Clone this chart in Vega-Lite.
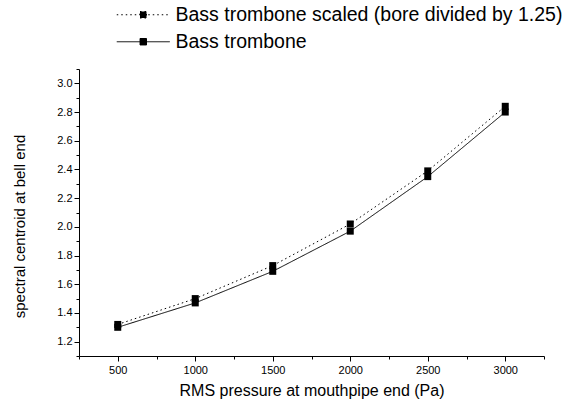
{
  "$schema": "https://vega.github.io/schema/vega-lite/v6.json",
  "width": 465,
  "height": 287,
  "autosize": "none",
  "padding": {"left": 79, "top": 69, "right": 32, "bottom": 49},
  "background": "white",
  "config": {
    "view": {"stroke": null},
    "font": "Liberation Sans",
    "axis": {
      "grid": false,
      "domainColor": "black",
      "tickColor": "black",
      "labelColor": "black",
      "titleColor": "black",
      "labelFont": "Liberation Sans",
      "titleFont": "Liberation Sans",
      "titleFontWeight": "normal",
      "labelFontSize": 11,
      "titleFontSize": 16
    }
  },
  "data": {
    "values": [
      {"p": 500, "c": 1.32, "s": "Bass trombone scaled (bore divided by 1.25)"},
      {"p": 1000, "c": 1.50, "s": "Bass trombone scaled (bore divided by 1.25)"},
      {"p": 1500, "c": 1.73, "s": "Bass trombone scaled (bore divided by 1.25)"},
      {"p": 2000, "c": 2.02, "s": "Bass trombone scaled (bore divided by 1.25)"},
      {"p": 2500, "c": 2.39, "s": "Bass trombone scaled (bore divided by 1.25)"},
      {"p": 3000, "c": 2.84, "s": "Bass trombone scaled (bore divided by 1.25)"},
      {"p": 500, "c": 1.30, "s": "Bass trombone"},
      {"p": 1000, "c": 1.47, "s": "Bass trombone"},
      {"p": 1500, "c": 1.69, "s": "Bass trombone"},
      {"p": 2000, "c": 1.97, "s": "Bass trombone"},
      {"p": 2500, "c": 2.35, "s": "Bass trombone"},
      {"p": 3000, "c": 2.80, "s": "Bass trombone"}
    ]
  },
  "encoding": {
    "x": {
      "field": "p",
      "type": "quantitative",
      "scale": {"domain": [250, 3250], "nice": false, "zero": false},
      "axis": {
        "title": "RMS pressure at mouthpipe end (Pa)",
        "values": [250, 500, 750, 1000, 1250, 1500, 1750, 2000, 2250, 2500, 2750, 3000, 3250],
        "format": "d",
        "labelExpr": "datum.value % 500 === 0 ? datum.label : ''",
        "tickSize": {"condition": {"test": "datum.value % 500 !== 0", "value": 3}, "value": 5},
        "labelPadding": 3,
        "titlePadding": 7,
        "labelFlush": false
      }
    },
    "y": {
      "field": "c",
      "type": "quantitative",
      "scale": {"domain": [1.1, 3.1], "nice": false, "zero": false},
      "axis": {
        "title": "spectral centroid at bell end",
        "titleFontSize": 15,
        "values": [1.1, 1.2, 1.3, 1.4, 1.5, 1.6, 1.7, 1.8, 1.9, 2.0, 2.1, 2.2, 2.3, 2.4, 2.5, 2.6, 2.7, 2.8, 2.9, 3.0, 3.1],
        "format": ".1f",
        "labelExpr": "round(datum.value * 10) % 2 === 0 ? datum.label : ''",
        "tickSize": {"condition": {"test": "round(datum.value * 10) % 2 !== 0", "value": 3}, "value": 5},
        "labelPadding": 2,
        "titlePadding": 29,
        "titleY": 157,
        "labelFlush": false
      }
    }
  },
  "layer": [
    {
      "mark": {"type": "line", "color": "black", "strokeWidth": 1},
      "encoding": {
        "strokeDash": {
          "field": "s",
          "type": "nominal",
          "scale": {
            "domain": ["Bass trombone scaled (bore divided by 1.25)", "Bass trombone"],
            "range": [[1.5, 3], [1, 0]]
          },
          "legend": {
            "title": null,
            "orient": "none",
            "legendX": 54.5,
            "legendY": -64,
            "padding": 0,
            "symbolType": "M-5.3,0H5.3M-0.65,-0.65H0.65V0.65H-0.65Z",
            "symbolSize": 100,
            "symbolFillColor": "black",
            "symbolStrokeColor": "black",
            "symbolStrokeWidth": 1,
            "labelFont": "Liberation Sans",
            "labelFontSize": 19.5,
            "labelColor": "black",
            "labelOffset": 22.5,
            "rowPadding": 6,
            "labelLimit": 600
          }
        }
      }
    },
    {
      "mark": {"type": "point", "shape": "square", "filled": true, "color": "black", "size": 49, "opacity": 1},
      "encoding": {"detail": {"field": "s"}}
    }
  ]
}
